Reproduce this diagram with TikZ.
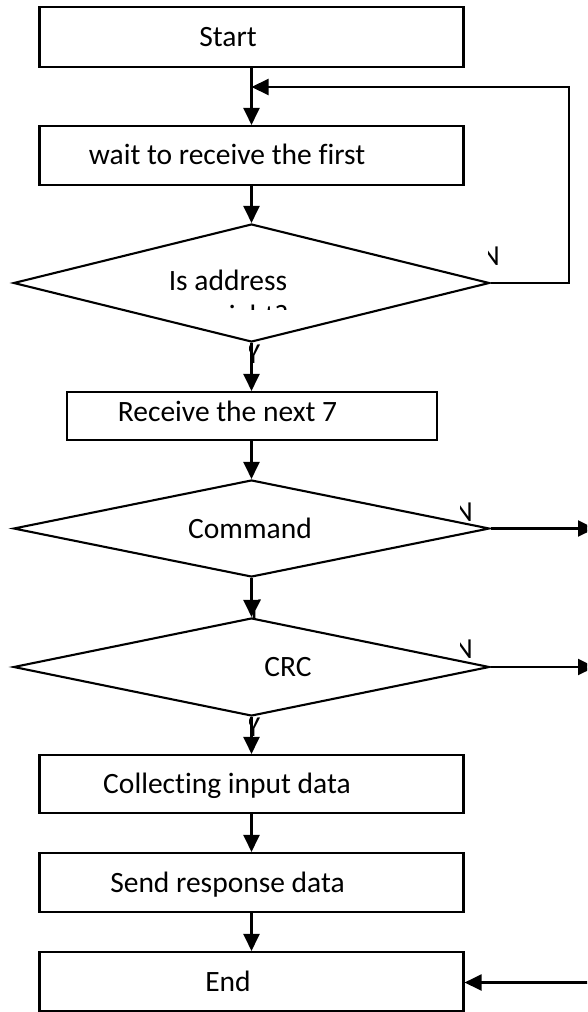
\documentclass[tikz,border=0pt]{standalone}
\usepackage{fontspec}
\setmainfont{Carlito}[Ligatures=NoCommon]
\usetikzlibrary{shapes.geometric,arrows.meta}

\begin{document}
\begin{tikzpicture}[x=1pt,y=-1pt,
  stepbox/.style={draw, line width=2.1pt, fill=white, inner sep=0pt,
    minimum width=424pt, minimum height=59pt},
  decision/.style={draw, diamond, line width=2.1pt, fill=white, inner sep=0pt,
    minimum width=476pt},
  txt/.style={anchor=base, inner sep=0pt, font=\fontsize{29.5}{35}\selectfont},
  lbl/.style={inner sep=0pt, font=\fontsize{29}{35}\selectfont},
  flow/.style={line width=2.1pt, -{Triangle[length=17pt,width=16pt]}},
  wire/.style={line width=2.1pt}]

\useasboundingbox (0,0) rectangle (587,1012);
\clip (0,0) rectangle (587,1012);

% process boxes
\node[stepbox, minimum height=60pt] (start) at (251.5,37) {};
\node[stepbox] (wait) at (251.5,155.5) {};
\node[stepbox, minimum width=370pt, minimum height=48pt] (recv) at (252,416) {};
\node[stepbox, minimum height=58pt] (coll) at (251.5,784) {};
\node[stepbox] (send) at (251.5,882.5) {};
\node[stepbox] (endb) at (251.5,981.5) {};

% decisions
\node[decision, minimum height=118pt] (addr) at (251.5,283) {};
\node[decision, minimum height=97pt] (cmd) at (251.5,528.5) {};
\node[decision, minimum height=98pt] (crc) at (251.5,667) {};

% texts
\node[txt] (tStart) at (228,46.5) {Start};
\node[txt] (tWait) at (227,164.5) {wait to receive the first};
\node[txt] (tAddr) at (228,290) {Is address};
\begin{scope}
  \clip (150,250) rectangle (360,309);
  \node[txt] (tAddr2) at (253.5,325) {right?};
\end{scope}
\node[txt] (tRecv) at (227.5,421) {Receive the next 7};
\node[txt] (tCmd) at (250,538) {Command};
\node[txt] (tCrc) at (288,676) {CRC};
\node[txt] (tColl) at (227,793.5) {Collecting input data};
\node[txt] (tSend) at (227.5,892) {Send response data};
\node[txt] (tEnd) at (228,991) {End};

% branch labels, partly hidden
\begin{scope}
  \clip (488,240) rectangle (520,270);
  \node[lbl, anchor=base east] (nAddr) at (500,265) {N};
\end{scope}
\begin{scope}
  \clip (460,495) rectangle (490,525);
  \node[lbl, anchor=base east] (nCmd) at (473,521) {N};
\end{scope}
\begin{scope}
  \clip (460,632) rectangle (490,662);
  \node[lbl, anchor=base east] (nCrc) at (473,658) {N};
\end{scope}
\begin{scope}
  \clip (249,343) rectangle (275,370);
  \node[lbl, anchor=base west] (yAddr) at (246,363) {Y};
\end{scope}
\begin{scope}
  \clip (250,590) rectangle (275,617);
  \node[lbl, anchor=base west] (yCmd) at (247,618) {Y};
\end{scope}
\begin{scope}
  \clip (249,717) rectangle (275,745);
  \node[lbl, anchor=base west] (yCrc) at (246,736) {Y};
\end{scope}

% free ends of the loop and side exits
\coordinate (loopTop) at (569,87);
\coordinate (cmdOut) at (595,528.5);
\coordinate (crcOut) at (595,667);
\coordinate (endIn) at (600,982.5);

% main flow
\draw[flow] (start.south) -- (wait.north);
\draw[flow] (wait.south) -- (addr.north);
\draw[flow] (addr.south) -- (recv.north -| addr.south);
\draw[flow] (recv.south -| cmd.north) -- (cmd.north);
\draw[flow] (cmd.south) -- (crc.north);
\draw[flow] (crc.south) -- (coll.north);
\draw[flow] (coll.south) -- (send.north);
\draw[flow] (send.south) -- (endb.north);

% loop back and exits
\draw[flow] (addr.east) -| (loopTop) -- (start.south |- loopTop);
\draw[flow] (cmd.east) -- (cmdOut);
\draw[flow] (crc.east) -- (crcOut);
\draw[flow] (endIn) -- (endb.east |- endIn);
\end{tikzpicture}
\end{document}
